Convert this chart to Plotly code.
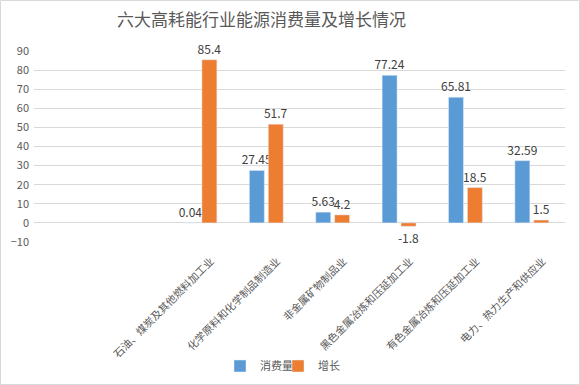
import plotly.graph_objects as go

categories = ["石油、煤炭及其他燃料加工业", "化学原料和化学制品制造业", "非金属矿物制品业",
              "黑色金属冶炼和压延加工业", "有色金属冶炼和压延加工业", "电力、热力生产和供应业"]
consumption = [0.04, 27.45, 5.63, 77.24, 65.81, 32.59]
growth = [85.4, 51.7, 4.2, -1.8, 18.5, 1.5]
y_ticks = [-10, 0, 10, 20, 30, 40, 50, 60, 70, 80, 90]

FONT = "Noto Sans CJK SC"
W, H = 580, 385
ml, mr, mt, mb = 34, 15, 51, 143
pw = W - ml - mr
ph = H - mt - mb


def px_x(p):
    return (p - ml) / pw


def px_y(p):
    return (H - mb - p) / ph


fig = go.Figure()
fig.add_trace(go.Bar(
    x=categories, y=consumption, name="消费量", marker_color="#5B9BD5",
    text=[f"{v:g}" for v in consumption], textposition="outside", constraintext="none",
    textfont=dict(color="#404040", size=12, family=FONT), cliponaxis=False,
    legend="legend",
))
fig.add_trace(go.Bar(
    x=categories, y=growth, name="增长", marker_color="#ED7D31",
    text=[f"{v:g}" for v in growth], textposition="outside", constraintext="none",
    textfont=dict(color="#404040", size=12, family=FONT), cliponaxis=False,
    legend="legend2",
))

leg_common = dict(orientation="h", xanchor="left", yanchor="middle", y=px_y(366),
                  font=dict(size=11, color="#595959", family=FONT), itemwidth=30,
                  bgcolor="rgba(0,0,0,0)")

fig.update_layout(
    width=W, height=H,
    margin=dict(l=ml, r=mr, t=mt, b=mb, autoexpand=False),
    paper_bgcolor="white", plot_bgcolor="white",
    font=dict(family=FONT, color="#595959", size=12),
    title=dict(text="六大高耗能行业能源消费量及增长情况", x=261.5 / W, xanchor="center",
               y=1 - 20 / H, yanchor="middle",
               font=dict(size=17, color="#595959", family=FONT)),
    barmode="group", bargap=0.43, bargroupgap=0.21,
    showlegend=True,
    legend=dict(x=px_x(220), **leg_common),
    legend2=dict(x=px_x(278), **leg_common),
    xaxis=dict(type="category", range=[-2.5, 5.5], tickangle=-45, showgrid=False,
               showline=False, ticks="", automargin=False,
               ticklabelshift=11, ticklabelstandoff=10,
               tickfont=dict(size=10.5, color="#595959")),
    yaxis=dict(range=[-10, 90], tickvals=y_ticks, showgrid=True, gridcolor="#D9D9D9",
               gridwidth=1, zeroline=False, showline=False, ticks="", automargin=False,
               ticklabelstandoff=4,
               tickfont=dict(size=11, color="#595959")),
    shapes=[dict(type="rect", xref="paper", yref="paper",
                 x0=px_x(0.5), x1=px_x(W - 0.5),
                 y0=px_y(H - 0.5), y1=px_y(0.5),
                 line=dict(color="#D9D9D9", width=1), layer="below")],
)
fig.write_html("out.html", config={"displayModeBar": False},
               post_script="document.body.style.margin='0';")
